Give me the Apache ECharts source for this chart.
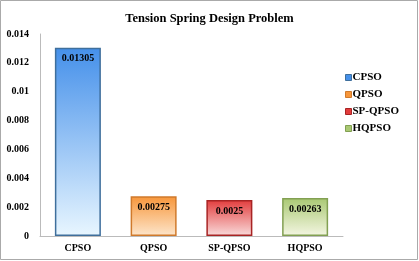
<!DOCTYPE html>
<html><head><meta charset="utf-8">
<script src="https://cdn.jsdelivr.net/npm/echarts@6/dist/echarts.min.js"></script>
<style>html,body{margin:0;padding:0;background:#fff}#c{width:419px;height:261px}</style>
</head><body><div id="c"></div>
<script>
var categories = ['CPSO', 'QPSO', 'SP-QPSO', 'HQPSO'];
var values = [0.01305, 0.00275, 0.0025, 0.00263];
var labels = ['0.01305', '0.00275', '0.0025', '0.00263'];
var topColors = ['#4590ea', '#f7963a', '#e23c3c', '#a9c873'];
var bottomColors = ['#e8f6ff', '#fde6cc', '#f9dcdc', '#f4f6e2'];
var borderColors = ['#3f6f9c', '#d07a2c', '#a82424', '#82a052'];

var chart = echarts.init(document.getElementById('c'), null, {renderer: 'canvas'});
var font = '"Liberation Serif", "DejaVu Serif", serif';
var series = categories.map(function (name, i) {
  var data = categories.map(function (c, j) { return j === i ? values[i] : null; });
  return {
    name: name, type: 'bar', stack: 'all', barWidth: 46,
    data: data,
    itemStyle: {
      color: new echarts.graphic.LinearGradient(0, 0, 0, 1, [
        {offset: 0, color: topColors[i]}, {offset: 1, color: bottomColors[i]}]),
      borderColor: borderColors[i], borderWidth: 1.5
    },
    label: {
      show: true, position: 'insideTop', distance: 6,
      formatter: function () { return labels[i]; },
      fontFamily: font, fontWeight: 'bold', fontSize: 10, color: '#000'
    }
  };
});
chart.setOption({
  animation: false,
  title: {
    text: 'Tension Spring Design Problem', left: 'center', top: 7,
    textStyle: {fontFamily: font, fontWeight: 'bold', fontSize: 12.5, color: '#000'}
  },
  legend: {
    orient: 'vertical', left: 340, top: 67, itemWidth: 6, itemHeight: 6, itemGap: 6,
    icon: 'rect',
    data: categories.map(function (c, i) {
      return {name: c, itemStyle: {color: topColors[i], borderColor: borderColors[i], borderWidth: 1}};
    }),
    textStyle: {fontFamily: font, fontWeight: 'bold', fontSize: 11, color: '#000', padding: [0, 0, 0, -4]}
  },
  grid: {left: 40, right: 76, top: 34, bottom: 25},
  xAxis: {
    type: 'category', data: categories,
    axisLine: {lineStyle: {color: '#bbb'}}, axisTick: {show: false},
    axisLabel: {fontFamily: font, fontWeight: 'bold', fontSize: 10, color: '#000', margin: 7}
  },
  yAxis: {
    type: 'value', min: 0, max: 0.014, interval: 0.002,
    axisLine: {show: true, lineStyle: {color: '#bbb'}}, axisTick: {show: false},
    splitLine: {show: false},
    axisLabel: {fontFamily: font, fontWeight: 'bold', fontSize: 10, color: '#000', margin: 11,
      formatter: function (v) { return String(+v.toFixed(4)); }}
  },
  graphic: [{type: 'rect', shape: {x: 0.5, y: 0.5, width: 417, height: 259},
    style: {fill: 'none', stroke: '#aaa', lineWidth: 1}, silent: true}],
  series: series
});
</script></body></html>
